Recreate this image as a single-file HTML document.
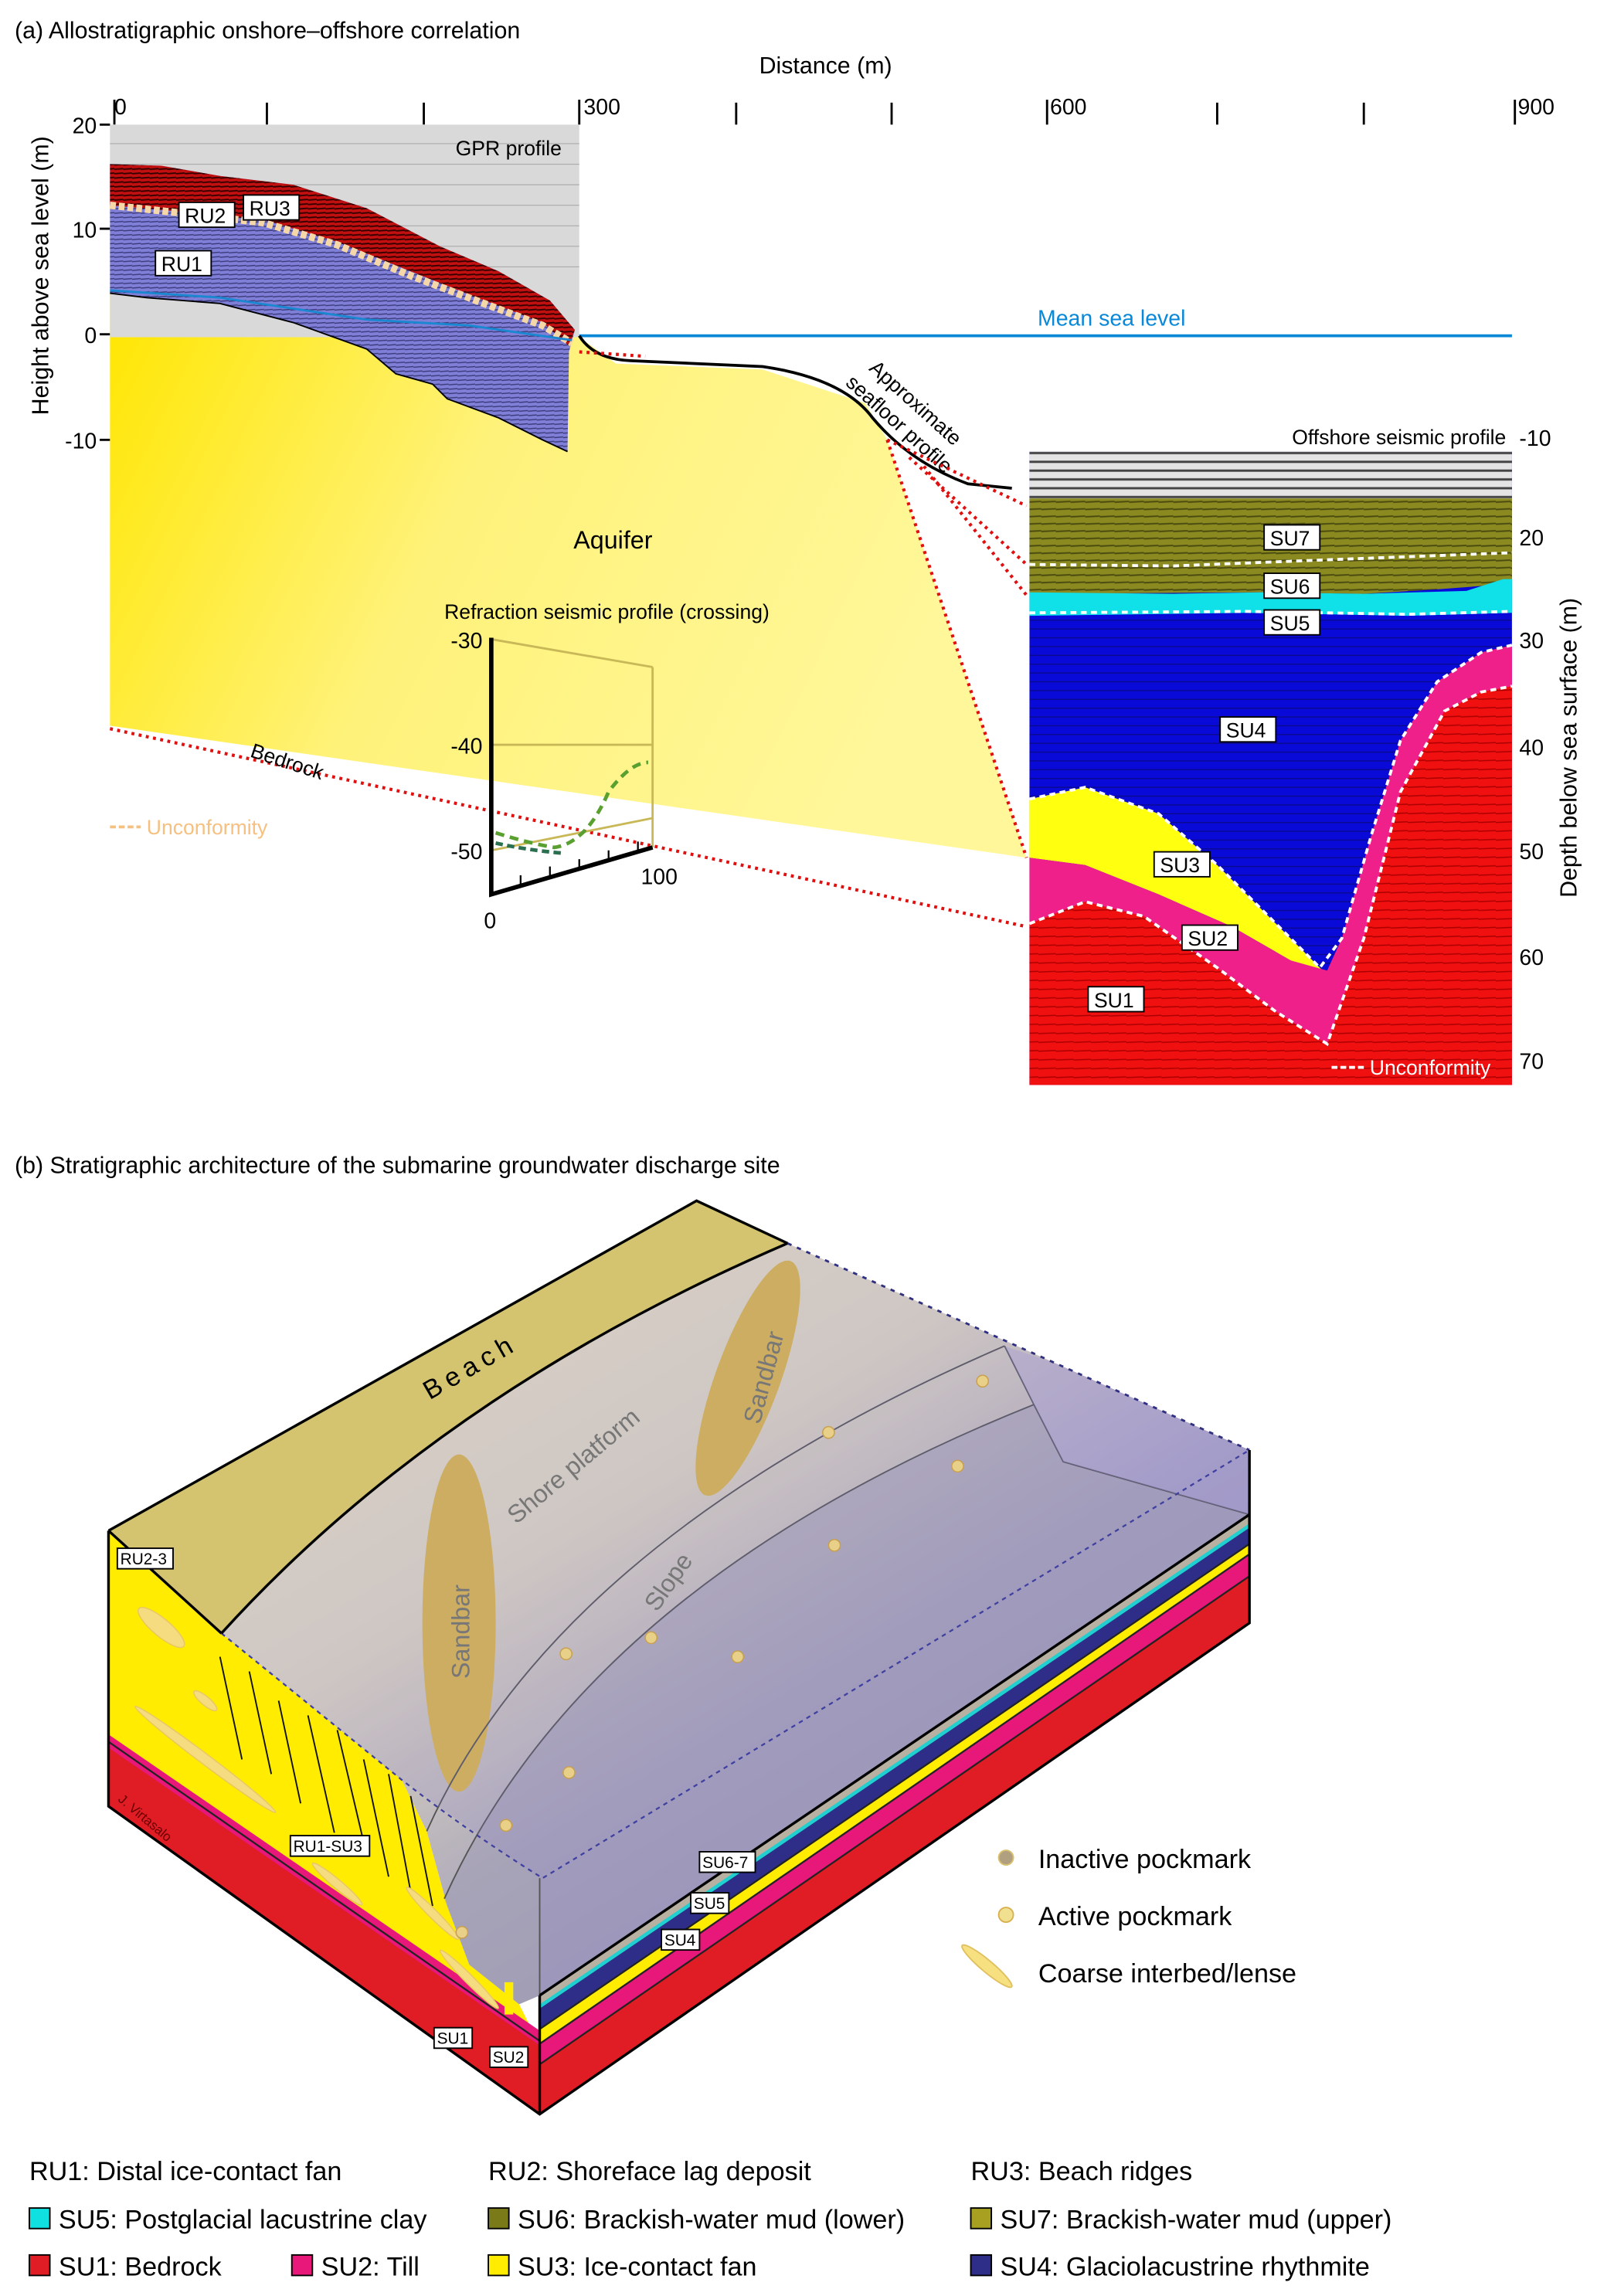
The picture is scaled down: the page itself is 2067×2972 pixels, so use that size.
<!DOCTYPE html>
<html><head><meta charset="utf-8"><style>
html,body{margin:0;padding:0;background:#fff;}
svg{display:block;font-family:"Liberation Sans",Arial,sans-serif;}
</style></head><body>
<svg width="2067" height="2972" viewBox="0 0 1089 1566" preserveAspectRatio="none" xmlns="http://www.w3.org/2000/svg">
<defs>
<linearGradient id="aq" x1="0" y1="0" x2="1" y2="0.3">
<stop offset="0" stop-color="#ffe600"/><stop offset="0.45" stop-color="#fff27a"/><stop offset="1" stop-color="#fff79a"/></linearGradient>
<pattern id="gpr" width="6" height="3" patternUnits="userSpaceOnUse"><rect width="6" height="3" fill="#7f7fd8"/><path d="M0 1.5 L6 1" stroke="#3a3a7a" stroke-width="0.8"/></pattern>
<pattern id="gprr" width="6" height="3" patternUnits="userSpaceOnUse"><rect width="6" height="3" fill="#c21010"/><path d="M0 1.5 L6 1" stroke="#300" stroke-width="1"/></pattern>
<pattern id="grayh" width="10" height="6" patternUnits="userSpaceOnUse"><rect width="10" height="6" fill="#e4e4e4"/><path d="M0 3 L10 3" stroke="#444" stroke-width="1.6"/></pattern>
<pattern id="olv" width="10" height="5" patternUnits="userSpaceOnUse"><rect width="10" height="5" fill="#8a8a20"/><path d="M0 2.5 L10 2" stroke="#4a4a10" stroke-width="1"/></pattern>
<pattern id="blu" width="12" height="6" patternUnits="userSpaceOnUse"><rect width="12" height="6" fill="#0a0ad8"/><path d="M0 3 L12 3" stroke="#0a0a90" stroke-width="0.8"/></pattern>
<pattern id="red" width="12" height="6" patternUnits="userSpaceOnUse"><rect width="12" height="6" fill="#f01010"/><path d="M0 3 L12 2.5" stroke="#a00" stroke-width="0.8"/></pattern>
<linearGradient id="sea" x1="0.1" y1="0" x2="0.9" y2="1"><stop offset="0" stop-color="#efe8c4"/><stop offset="0.35" stop-color="#ddd6c0"/><stop offset="0.6" stop-color="#aeaabb"/><stop offset="1" stop-color="#908cae"/></linearGradient>
</defs>

<!-- (a) -->
<text x="10" y="26" font-size="16">(a)  Allostratigraphic onshore–offshore correlation</text>
<text x="563" y="50" font-size="16" text-anchor="middle">Distance (m)</text>
<g stroke="#000" stroke-width="1.5">
<line x1="78" y1="68" x2="78" y2="85"/><line x1="182" y1="70" x2="182" y2="85"/><line x1="289" y1="70" x2="289" y2="85"/><line x1="395" y1="68" x2="395" y2="85"/><line x1="502" y1="70" x2="502" y2="85"/><line x1="608" y1="70" x2="608" y2="85"/><line x1="714" y1="68" x2="714" y2="85"/><line x1="830" y1="70" x2="830" y2="85"/><line x1="930" y1="70" x2="930" y2="85"/><line x1="1033" y1="68" x2="1033" y2="85"/>
</g>
<g font-size="15"><text x="78" y="78">0</text><text x="398" y="78">300</text><text x="716" y="78">600</text><text x="1035" y="78">900</text></g>
<g font-size="15" text-anchor="end"><text x="66" y="91">20</text><text x="66" y="162">10</text><text x="66" y="234">0</text><text x="66" y="306">-10</text></g>
<g stroke="#000" stroke-width="1.5"><line x1="68" y1="85" x2="75" y2="85"/><line x1="68" y1="156" x2="75" y2="156"/><line x1="68" y1="228" x2="75" y2="228"/><line x1="68" y1="300" x2="75" y2="300"/></g>
<text transform="translate(33,188) rotate(-90)" font-size="16" text-anchor="middle">Height above sea level (m)</text>

<path d="M75 200 L395 230 L420 248 L520 252 L590 275 L605 300 L700 585 L75 495 Z" fill="url(#aq)"/>
<rect x="75" y="85" width="320" height="145" fill="#d9d9d9"/>
<g stroke="#aaa" stroke-width="0.6"><line x1="75" y1="98" x2="395" y2="98"/><line x1="75" y1="112" x2="395" y2="112"/><line x1="75" y1="126" x2="395" y2="126"/><line x1="75" y1="140" x2="395" y2="140"/><line x1="75" y1="154" x2="395" y2="154"/><line x1="75" y1="168" x2="395" y2="168"/><line x1="75" y1="182" x2="395" y2="182"/></g>
<text x="383" y="106" font-size="14" text-anchor="end">GPR profile</text>
<path d="M75 112 L110 113 L150 120 L200 126 L250 142 L300 168 L340 185 L375 205 L392 225 L388 240 L387 308 L370 300 L340 285 L305 272 L295 262 L270 255 L250 238 L200 220 L150 207 L100 203 L75 200 Z" fill="url(#gpr)"/>
<path d="M75 112 L110 113 L150 120 L200 126 L250 142 L300 168 L340 185 L375 205 L392 225 L388 236 L370 220 L330 205 L280 185 L230 165 L180 150 L130 145 L75 140 Z" fill="url(#gprr)"/>
<path d="M75 140 L130 146 L180 152 L230 167 L280 188 L330 207 L370 222 L390 234" fill="none" stroke="#f6d8a8" stroke-width="5" stroke-dasharray="4 2"/>
<path d="M75 198 L150 203 L250 218 L320 222 L390 232" fill="none" stroke="#1a88d0" stroke-width="1.5"/>
<path d="M75 200 L100 203 L150 207 L200 220 L250 238 L270 255 L295 262 L305 272 L340 285 L370 300 L387 308" fill="none" stroke="#000" stroke-width="1"/>
<g><rect x="122" y="138" width="38" height="17" fill="#fff" stroke="#000"/><text x="126" y="152" font-size="14">RU2</text>
<rect x="166" y="133" width="38" height="17" fill="#fff" stroke="#000"/><text x="170" y="147" font-size="14">RU3</text>
<rect x="106" y="171" width="38" height="17" fill="#fff" stroke="#000"/><text x="110" y="185" font-size="14">RU1</text></g>

<line x1="395" y1="229" x2="1031" y2="229" stroke="#0a88d8" stroke-width="2"/>
<text x="758" y="222" font-size="15" fill="#0a88d8" text-anchor="middle">Mean sea level</text>
<path d="M395 229 Q405 245 430 246 L520 250 Q575 258 595 285 Q620 315 660 330 L690 333" fill="none" stroke="#000" stroke-width="2"/>
<text transform="translate(592,252) rotate(42)" font-size="14">Approximate</text>
<text transform="translate(576,262) rotate(42)" font-size="14">seafloor profile</text>

<g stroke="#e01010" stroke-width="2.2" stroke-dasharray="2 3" fill="none">
<line x1="75" y1="497" x2="700" y2="632"/>
<line x1="395" y1="240" x2="440" y2="243"/>
<line x1="605" y1="300" x2="700" y2="585"/>
<line x1="605" y1="300" x2="700" y2="345"/>
<line x1="620" y1="312" x2="700" y2="385"/>
<line x1="630" y1="318" x2="700" y2="406"/>
</g>
<text x="418" y="374" font-size="17" text-anchor="middle">Aquifer</text>
<text transform="translate(170,516) rotate(18)" font-size="14">Bedrock</text>
<line x1="75" y1="564" x2="96" y2="564" stroke="#f6c080" stroke-width="2" stroke-dasharray="4 2"/>
<text x="100" y="569" font-size="14" fill="#f6c080">Unconformity</text>

<text x="303" y="422" font-size="14">Refraction seismic profile (crossing)</text>
<g stroke="#c8b858" stroke-width="1.5" fill="none"><line x1="335" y1="436" x2="445" y2="455"/><line x1="335" y1="508" x2="445" y2="508"/><line x1="335" y1="580" x2="445" y2="558"/><line x1="445" y1="455" x2="445" y2="578"/></g>
<path d="M335 435 L335 610 L445 578" fill="none" stroke="#000" stroke-width="3"/>
<g stroke="#000" stroke-width="1.2"><line x1="355" y1="597" x2="355" y2="603"/><line x1="375" y1="591" x2="375" y2="597"/><line x1="395" y1="586" x2="395" y2="592"/><line x1="415" y1="580" x2="415" y2="586"/><line x1="435" y1="574" x2="435" y2="580"/></g>
<path d="M338 568 Q360 575 378 578 Q400 575 415 540 Q430 520 442 520" fill="none" stroke="#5aa030" stroke-width="2.5" stroke-dasharray="6 4"/>
<path d="M338 575 Q360 580 385 582" fill="none" stroke="#2a7050" stroke-width="2.5" stroke-dasharray="5 3"/>
<g font-size="15" text-anchor="end"><text x="329" y="442">-30</text><text x="329" y="514">-40</text><text x="329" y="586">-50</text></g>
<text x="330" y="633" font-size="15">0</text><text x="437" y="603" font-size="15">100</text>

<rect x="702" y="308" width="329" height="432" fill="url(#blu)"/>
<rect x="702" y="308" width="329" height="34" fill="url(#grayh)"/>
<path d="M702 340 L1031 340 L1031 398 L980 402 L930 405 L860 404 L702 405 Z" fill="url(#olv)"/>
<path d="M702 404 L800 405 L860 404 L930 405 L1000 403 L1025 395 L1031 395 L1031 418 L960 420 L850 418 L702 420 Z" fill="#10e0e8"/>
<path d="M702 545 L740 537 L790 555 L830 590 L860 620 L900 660 L905 665 L880 655 L840 632 L790 610 L740 590 L702 585 Z" fill="#ffff10"/>
<path d="M702 585 L740 590 L790 610 L840 632 L880 655 L905 662 L915 640 L935 570 L955 505 L980 465 L1010 445 L1031 440 L1031 740 L702 740 Z" fill="#f0208a"/>
<path d="M702 630 L740 615 L780 625 L830 660 L870 690 L905 712 L930 640 L955 540 L985 485 L1010 472 L1031 468 L1031 740 L702 740 Z" fill="url(#red)"/>
<g fill="none" stroke="#fff" stroke-width="2" stroke-dasharray="4 3">
<path d="M702 385 L800 386 L900 382 L1031 377"/>
<path d="M702 545 L740 537 L790 555 L830 590 L860 620 L900 660 L915 640 L935 570 L955 505 L980 465 L1010 445 L1031 440"/>
<path d="M702 630 L740 615 L780 625 L830 660 L870 690 L905 712 L930 640 L955 540 L985 485 L1010 472 L1031 468"/>
<path d="M702 418 L850 417 L960 419 L1031 417"/>
</g>
<text x="1027" y="303" font-size="14" text-anchor="end">Offshore seismic profile</text>
<g font-size="14"><rect x="862" y="358" width="38" height="17" fill="#fff" stroke="#000"/><text x="866" y="372">SU7</text>
<rect x="862" y="391" width="38" height="17" fill="#fff" stroke="#000"/><text x="866" y="405">SU6</text>
<rect x="862" y="416" width="38" height="17" fill="#fff" stroke="#000"/><text x="866" y="430">SU5</text>
<rect x="832" y="489" width="38" height="17" fill="#fff" stroke="#000"/><text x="836" y="503">SU4</text>
<rect x="787" y="581" width="38" height="17" fill="#fff" stroke="#000"/><text x="791" y="595">SU3</text>
<rect x="806" y="631" width="38" height="17" fill="#fff" stroke="#000"/><text x="810" y="645">SU2</text>
<rect x="742" y="673" width="38" height="17" fill="#fff" stroke="#000"/><text x="746" y="687">SU1</text></g>
<line x1="908" y1="728" x2="930" y2="728" stroke="#fff" stroke-width="2" stroke-dasharray="4 2"/>
<text x="934" y="733" font-size="14" fill="#fff">Unconformity</text>
<g font-size="15"><text x="1036" y="304">-10</text><text x="1036" y="372">20</text><text x="1036" y="442">30</text><text x="1036" y="515">40</text><text x="1036" y="586">50</text><text x="1036" y="658">60</text><text x="1036" y="729">70</text></g>
<text transform="translate(1075,510) rotate(-90)" font-size="16" text-anchor="middle">Depth below sea surface (m)</text>

<!-- (b) -->
<text x="10" y="800" font-size="16">(b)  Stratigraphic architecture of the submarine groundwater discharge site</text>

<path d="M74 1044 L151 1114 Q220 1170 274 1214 L291 1249 L305 1300 L320 1340 L354 1367 L368 1395 L368 1442 L74 1232 Z" fill="#ffec00"/>
<path d="M74 1188 L368 1392 L368 1442 L74 1232 Z" fill="#e01c24"/>
<path d="M74 1183 L368 1385 L368 1395 L74 1192 Z" fill="#e8187a"/>
<path d="M368 1361 L852 1033 L852 1107 L368 1442 Z" fill="#e01c24"/>
<path d="M368 1361 L852 1033 L852 1075 L368 1408 Z" fill="#e8187a"/>
<path d="M368 1361 L852 1033 L852 1060 L368 1394 Z" fill="#ffec00"/>
<path d="M368 1361 L852 1033 L852 1053 L368 1384 Z" fill="#2e2e88"/>
<path d="M368 1361 L852 1033 L852 1042 L368 1370 Z" fill="#20d0d0"/>
<path d="M368 1361 L852 1033 L852 1039 L368 1367 Z" fill="#b8b0a0"/>
<g fill="none" stroke="#222" stroke-width="1.2"><path d="M368 1384 L852 1053"/><path d="M368 1394 L852 1060"/><path d="M368 1408 L852 1075"/><path d="M74 1188 L368 1392"/></g>
<path d="M74 1044 L475 819 L537 848 Q300 950 151 1114 Z" fill="#d4c470"/>
<!-- seafloor -->
<path d="M151 1114 Q300 950 537 848 L852 989 L852 1033 L368 1361 L354 1367 L320 1340 L305 1300 L291 1249 L274 1214 Q220 1170 151 1114 Z" fill="url(#sea)"/>
<path d="M303 1295 Q400 1080 705 958 L725 997 L852 1033 L368 1361 L354 1367 L320 1340 Z" fill="#9e9ab4" fill-opacity="0.5"/>
<ellipse cx="313" cy="1107" rx="25" ry="115" fill="#dcb84a"/>
<ellipse cx="510" cy="940" rx="22" ry="85" fill="#dcb84a" transform="rotate(20 510 940)"/>
<path d="M291 1249 Q380 1050 685 918" fill="none" stroke="#555" stroke-width="1"/>
<path d="M303 1295 Q400 1080 705 958 L725 997 L852 1033" fill="none" stroke="#555" stroke-width="1"/>
<path d="M685 918 L705 958" fill="none" stroke="#555" stroke-width="1"/>
<!-- water -->
<path d="M151 1114 Q300 950 537 848 L852 989 L852 1033 L368 1361 L368 1281 L274 1214 Q220 1170 151 1114 Z" fill="#8a80d0" fill-opacity="0.18"/>
<path d="M685 918 L705 958 L725 997 L852 1033 L852 989 L720 930 Z" fill="#9a90e0" fill-opacity="0.3"/>
<path d="M151 1114 Q220 1170 274 1214 Q320 1250 370 1281 L852 989" fill="none" stroke="#4040a0" stroke-width="1.2" stroke-dasharray="3 3"/>
<path d="M537 848 L852 989" fill="none" stroke="#303080" stroke-width="1.5" stroke-dasharray="3 4"/>
<line x1="368" y1="1281" x2="368" y2="1361" stroke="#555"/>
<g fill="none" stroke="#000" stroke-width="1.8">
<path d="M74 1044 L475 819 L537 848"/><path d="M151 1114 Q300 950 537 848"/><path d="M74 1044 L151 1114"/>
<path d="M74 1044 L74 1232 L368 1442 L852 1107 L852 989"/><path d="M368 1361 L368 1442"/><path d="M368 1361 L852 1033"/>
</g>
<g stroke="#111" stroke-width="1"><path d="M150 1130 L165 1200"/><path d="M170 1140 L185 1210"/><path d="M190 1160 L205 1230"/><path d="M210 1170 L228 1250"/><path d="M230 1180 L250 1265"/><path d="M248 1200 L265 1280"/><path d="M265 1210 L280 1290"/><path d="M280 1225 L295 1300"/></g>
<g fill="#f6dc80" stroke="#e8c860" stroke-width="0.8">
<ellipse cx="110" cy="1110" rx="20" ry="6" transform="rotate(40 110 1110)"/>
<ellipse cx="140" cy="1160" rx="10" ry="3" transform="rotate(40 140 1160)"/>
<ellipse cx="140" cy="1200" rx="60" ry="3.5" transform="rotate(37 140 1200)"/>
<ellipse cx="230" cy="1285" rx="22" ry="3" transform="rotate(40 230 1285)"/>
<ellipse cx="295" cy="1305" rx="25" ry="3" transform="rotate(45 295 1305)"/>
<ellipse cx="320" cy="1350" rx="28" ry="3" transform="rotate(45 320 1350)"/>
</g>
<rect x="344" y="1352" width="6" height="22" fill="#ffec00"/>
<g fill="#e8d088" stroke="#c8a050" stroke-width="0.8">
<circle cx="386" cy="1128" r="4"/><circle cx="444" cy="1117" r="4"/><circle cx="503" cy="1130" r="4"/><circle cx="569" cy="1054" r="4"/><circle cx="653" cy="1000" r="4"/><circle cx="670" cy="942" r="4"/><circle cx="565" cy="977" r="4"/><circle cx="388" cy="1209" r="4"/><circle cx="315" cy="1318" r="4"/><circle cx="345" cy="1245" r="4"/></g>
<text transform="translate(293,955) rotate(-30)" font-size="18" letter-spacing="4">Beach</text>
<text transform="translate(352,1040) rotate(-40)" font-size="17" fill="#777">Shore platform</text>
<text transform="translate(448,1100) rotate(-55)" font-size="17" fill="#777">Slope</text>
<text transform="translate(320,1145) rotate(-90)" font-size="17" fill="#777">Sandbar</text>
<text transform="translate(518,972) rotate(-75)" font-size="17" fill="#777">Sandbar</text>
<text transform="translate(80,1228) rotate(40)" font-size="9" fill="#600">J. Virtasalo</text>
<g font-size="11"><rect x="80" y="1056" width="38" height="14" fill="#fff" stroke="#000"/><text x="82" y="1067">RU2-3</text>
<rect x="198" y="1252" width="54" height="14" fill="#fff" stroke="#000"/><text x="200" y="1263">RU1-SU3</text>
<rect x="477" y="1263" width="38" height="14" fill="#fff" stroke="#000"/><text x="479" y="1274">SU6-7</text>
<rect x="471" y="1291" width="26" height="14" fill="#fff" stroke="#000"/><text x="473" y="1302">SU5</text>
<rect x="451" y="1316" width="26" height="14" fill="#fff" stroke="#000"/><text x="453" y="1327">SU4</text>
<rect x="296" y="1383" width="26" height="14" fill="#fff" stroke="#000"/><text x="298" y="1394">SU1</text>
<rect x="334" y="1396" width="26" height="14" fill="#fff" stroke="#000"/><text x="336" y="1407">SU2</text></g>
<circle cx="686" cy="1267" r="5" fill="#b0a080" stroke="#d8c070"/>
<circle cx="686" cy="1306" r="5" fill="#f0e090" stroke="#d8b050"/>
<ellipse cx="673" cy="1341" rx="22" ry="4" transform="rotate(40 673 1341)" fill="#f6e080" stroke="#e0c060"/>
<g font-size="18"><text x="708" y="1274">Inactive pockmark</text><text x="708" y="1313">Active pockmark</text><text x="708" y="1352">Coarse interbed/lense</text></g>

<g font-size="18">
<text x="20" y="1487">RU1: Distal ice-contact fan</text><text x="333" y="1487">RU2: Shoreface lag deposit</text><text x="662" y="1487">RU3: Beach ridges</text>
<rect x="20" y="1506" width="14" height="14" fill="#10e0e0" stroke="#000"/><text x="40" y="1520">SU5: Postglacial lacustrine clay</text>
<rect x="333" y="1506" width="14" height="14" fill="#7a7a18" stroke="#000"/><text x="353" y="1520">SU6: Brackish-water mud (lower)</text>
<rect x="662" y="1506" width="14" height="14" fill="#a8a020" stroke="#000"/><text x="682" y="1520">SU7: Brackish-water mud (upper)</text>
<rect x="20" y="1538" width="14" height="14" fill="#e01c24" stroke="#000"/><text x="40" y="1552">SU1: Bedrock</text>
<rect x="199" y="1538" width="14" height="14" fill="#e8187a" stroke="#000"/><text x="219" y="1552">SU2: Till</text>
<rect x="333" y="1538" width="14" height="14" fill="#ffec00" stroke="#000"/><text x="353" y="1552">SU3: Ice-contact fan</text>
<rect x="662" y="1538" width="14" height="14" fill="#2e2e88" stroke="#000"/><text x="682" y="1552">SU4: Glaciolacustrine rhythmite</text>
</g>
</svg>
</body></html>
